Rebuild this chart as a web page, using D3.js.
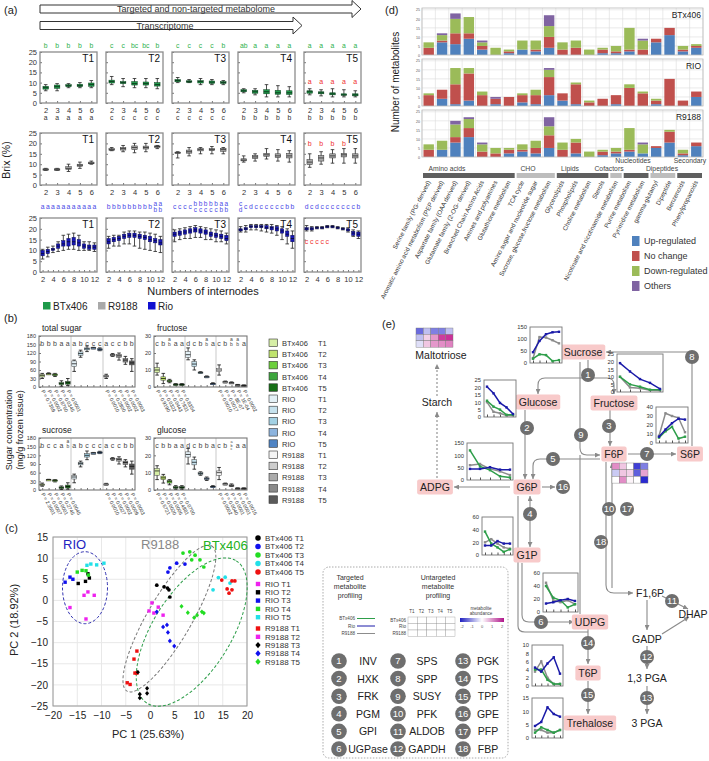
<!DOCTYPE html>
<html><head><meta charset="utf-8">
<script src="https://cdn.jsdelivr.net/npm/d3@7"></script>
<style>body{margin:0;background:#fff}svg{font-family:"Liberation Sans",Arial,Helvetica,sans-serif}</style>
</head><body>
<svg id="fig" width="709" height="761"></svg>
<script>
// ================= DATA =================
const timePoints = ["T1","T2","T3","T4","T5"];
const internodesShort = [2,3,4,5,6];
const internodesRio = [2,3,4,5,6,7,8,9,10,11,12];
const brixTicks = [0,5,10,15,20,25];
// Brix boxes: [whisker low, Q1, median, Q3, whisker high]
const brixBTx406 = [
 [[6,6.8,7.5,8.2,9],[6,7.2,8,8.8,9.5],[7.5,8,8.5,9,9.5],[7.5,8,8.5,9.2,10],[7.5,8.2,9,9.8,11]],
 [[9,9.8,10.5,11.2,13],[8,9.5,10,10.5,12],[7.5,8.8,9.5,10.5,12],[7.5,8.8,9.5,10.3,12],[7,8.3,9,10,12]],
 [[10,10.4,11,11.5,12.5],[10,10.2,10.5,10.9,11.5],[9,9.8,10.5,11,12],[9,9.6,10.2,10.8,11.5],[9,9.6,10,10.5,11]],
 [[5,5.5,6,6.5,7],[4,4.8,5.5,6.2,7],[3,4.5,5.5,6.5,9],[3,4.3,5,6.2,8.5],[3,4.2,5,6,8]],
 [[4,4.8,5.5,6,7],[3.5,4.5,5,5.5,6.5],[3,4,4.5,5,7],[3,3.8,4,4.5,6.5],[3,3.5,4,4.5,6]]
];
const brixR9188 = [
 [[7,7.2,7.5,7.8,8],[7,7.2,7.5,7.8,8],[6.5,7.5,8,8.8,10],[8,9,9.5,10,11],[10,10.2,10.5,11,11.5]],
 [[16.5,16.7,17,17.5,18],[16,16.8,17.5,18,19],[15.5,17,18,18.8,20],[16,17.3,18,18.7,20],[17.5,18,18.5,18.8,19]],
 [[13,15.3,15.5,15.8,16],[14,15.3,16,16.8,18],[15,16.4,17,17.5,18],[15,16.5,17,17.5,18.5],[15,16.2,17,17.6,18]],
 [[11,11.6,12,12.6,14],[11.5,12.7,13.5,14.2,15],[12.5,13.8,14.5,15.2,17.5],[11.5,13.2,14,15,17],[11,13,14,15.2,16.5]],
 [[8.5,9.8,11,12.2,15],[10,11.5,13,14.2,16],[10.5,13,14,15,17],[10.5,13.5,14.5,15.2,17.5],[10.5,13,14,15,17.5]]
];
const rioLo = [
 [6,7,9,9.5,10,10.5,10.5,10,10,10,9.5],[11,12,12,13,13,12,11,10.5,10,9.5,9],
 [14,15,15.5,15.5,16,16,15,15,14,14,13],[18.5,18.5,19.5,19.5,19,18.5,18,17,15,13,11],
 [19,19,20,20,20.5,20.5,20,19.5,18.5,16.5,15.5]];
const rioQ1 = [
 [7.5,8.5,10,11,12,12,12.5,12,11,10.5,10.5],[13,14,14.5,15.5,16,16,15.5,15,14,13.5,12.5],
 [16.5,17,17.5,18,18.5,18,17.5,16.5,16,15.5,14.5],[19,19.5,20.5,20.5,20.5,20,19.5,19,18,16.5,14],
 [19.5,19.5,20.2,20.2,20.7,20.7,20.2,19.7,19,17,16.5]];
const rioMed = [
 [8.5,9.5,10.5,12,13,14,14,13.5,12,11.5,11.5],[14,15,15.5,16.5,17,17,16.5,16,15,14.5,13.5],
 [17.5,18,18.5,19,19.5,19,18.5,17.5,17,16.5,15.5],[19.5,20,21,21,21,20.5,20.5,20,19,17.5,15.5],
 [20,20,20.5,20.5,21,21,20.5,20,19.5,18,17.5]];
const rioQ3 = [
 [10,10.5,11,13,14.5,15.5,16,15,13,12.5,12.5],[15.5,16,16.5,17.5,18,18,17.5,17,16.5,15.5,15],
 [18.5,19,19.5,20,20.5,20,19.5,18.5,18,17.5,17],[20,20.5,21.5,21.5,21.5,21.5,21,21,20,19,17],
 [20.5,20.5,20.8,20.8,21.3,21.3,20.8,20.3,20,18.8,18.5]];
const rioHi = [
 [10.5,11.5,12,14,17,17.5,18,17,14,14,13.5],[16.5,17,17,18.5,19,19,18.5,18.5,18,17.5,16.5],
 [19.5,20,20.5,21,21.5,21,20.5,20,19.5,19,18],[21,21.5,22,22,22,22,22,21.5,21,20,19],
 [21.5,21,21,21,21.5,21.5,21,20.5,20.5,19.5,19]];
const lettersBTx406 = [["b","b","b","b","b"],["c","c","bc","bc","b"],["c","c","c","c","b"],["ab","a","a","a","a"],["a","a","a","a","a"]];
const lettersR9188 = [["a","a","a","a","a"],["c","c","c","c","c"],["c","c","c","c","c"],["b","b","b","b","b"],["b","b","b","b","b"]];
const lettersRio = [
 ["a","a","a","a","a","a","a","a","a","a","a"],
 ["b","b","b","b","b","b","b","b","b","a/b","a/b"],
 ["c","c","c","c","b/c","b/c","b/c","b/c","b/c","a/b","a/b"],
 ["c/d","c","d","c","c","c","c","c","c","b","b"],
 ["d","c","d","c","c","c","c","c","c","c","b"]];
const redLettersT5 = ["a","b","c"];
const redLettersValue = [10.5,19.5,14];

// Panel (b)
const sugarGenotypes = ["BTx406","RIO","R9188"];
const totalSugar = [[30,35,40,45,48],[44,46,47,48,50],[37,40,43,46,48],[3,8,12,16,22],[5,10,15,20,30],
 [55,72,82,92,95],[105,112,118,124,130],[125,131,135,138,145],[135,137,138,139,140],[128,131,133,135,138],
 [30,35,38,41,45],[108,111,113,115,118],[95,105,110,115,120],[80,88,95,100,108],[55,78,85,92,100]];
const fructose = [[7,8.5,10,11.5,14],[2,4,5,6,8],[2.5,3,3.5,4,4.5],[1,1.2,1.5,1.8,2],[1,1.2,1.5,1.8,2],
 [16,17.5,19,21,23],[10,12,13.5,15,16],[8,8.3,8.5,8.8,9],[5.5,5.8,6,6.3,6.5],[1.5,1.8,2,2.2,2.5],
 [7,9,10,11,13],[2.5,2.8,3,3.2,3.5],[2,2.3,2.5,2.7,3],[1,1.1,1.2,1.3,1.5],[0.8,0.9,1,1.1,1.2]];
const sucrose = [[13,16,18,21,24],[34,35,36,36.5,37],[28,31,33,35,36],[2,5,8,11,14],[3,7,12,17,25],
 [25,38,45,50,55],[80,87,92,96,100],[105,114,120,126,135],[125,127,128,129,130],[126,128,130,132,134],
 [17,18.5,20,21.5,23],[103,106,108,110,112],[90,100,106,110,115],[80,88,95,100,105],[55,72,82,90,100]];
const glucose = [[6,8.5,11,12.5,14],[4,6,7,8,9],[3,4,5,5.5,6],[0.5,1,1.5,2,2.5],[0.5,1,1.5,2,2.5],
 [15,19,20.5,22,24],[12,14.5,16,17.5,19],[8.5,9,9.5,10,10.5],[5.5,6,6.5,7,7.5],[1.5,1.8,2,2.2,2.5],
 [6,8.5,10,11,13],[3,3.3,3.5,3.7,4],[2,2.3,2.5,3,3.5],[0.8,0.9,1,1.1,1.2],[0.8,0.9,1,1.1,1.2]];
const lettersTotal = ["b","b","b","a","a","a","b","c","c","c","a","c","c","b","b"];
const lettersFructose = ["c","b","a/b","a","a","d","c","b","a/b","a","c","b","a/b","a/b","a"];
const lettersSucrose = ["b","c","c","a","a/b","a","b","c","c","c","a","c","c","b","b"];
const lettersGlucose = ["c","b","b","a","a","d","c","b","b","a","c","b","a/b/c","a","a"];
const pTotal = [["P = 0.7369","P = 0.0002","P = 0.8760","P = 0.0345","P = 0.0001"],["P = 0.0010","P = 0.2800","P = 0.0002","P = 0.0002","P = 0.0003"]];
const pFructose = [["P = 0.9190","P = 0.0322","P = 0.0443","P = 0.7831","P = 0.8354"],["P = 0.0010","P = 0.0017","P = 8E-07","P = 1E-04","P = 0.0002"]];
const pSucrose = [["P = 2.3601","P = 0.0007","P = 0.0001","P = 0.2745","P = 0.0045"],["P = 0.0010","P = 0.0027","P = 0.0002","P = 0.0009","P = 0.0003"]];
const pGlucose = [["P = 0.6721","P = 0.0020","P = 0.0006","P = 0.4881","P = 0.0700"],["P = 0.0002","P = 0.0040","P = 0.0001","P = 0.0001","P = 0.0016"]];

// Panel (c) PCA scores: [group, PC1, PC2]
const pcaGroups = ["BTx406 T1","BTx406 T2","BTx406 T3","BTx406 T4","BTx406 T5",
 "RIO T1","RIO T2","RIO T3","RIO T4","RIO T5","R9188 T1","R9188 T2","R9188 T3","R9188 T4","R9188 T5"];
const pcaScores = [
 [0,1.4,3.6],[0,2.9,3.2],[0,3.9,2.5],[0,3.6,2.9],[0,4.1,0.8],
 [1,4.1,7.7],[1,5.5,8.8],[1,7.2,8.6],[1,3.7,6.7],
 [2,6.8,11.2],[2,8.2,11.5],[2,8.6,9.6],[2,10.3,9.6],[2,11.1,7.9],[2,9.3,10.7],
 [3,14.1,5.4],[3,15.5,5.5],[3,16.5,4.1],[3,13,2.5],
 [4,14.8,4.8],[4,16.9,4.6],[4,17.5,4.6],[4,15.9,2.7],[4,16.9,2.5],[4,16.3,1.7],
 [5,-13.6,1.2],[5,-12.8,2],[5,-11.5,1.2],[5,-16.5,-1.7],[5,-13.2,-4.4],
 [6,-14.8,4],[6,-13.3,4.5],[6,-12.8,6.3],[6,-12.5,5.3],
 [7,-17.5,4.3],[7,-16.5,5.5],[7,-15.9,5],
 [8,-15,6.7],[8,-14,7.1],[8,-13.2,7],[8,-12.7,6],
 [9,-13,8.3],[9,-12.2,8.6],[9,-11,8.4],[9,-9.5,8.8],
 [10,-4.7,-19.5],[10,-4.1,-19.9],[10,-2.7,-12],[10,-3.3,-13.9],[10,-3.1,-17.2],[10,-2.7,-17.2],
 [11,0.4,-0.6],[11,-0.2,-2.5],[11,0.8,-3],[11,1.7,-1.6],[11,2.7,-3.5],
 [12,-2.1,-22.2],[12,-2.1,-23.1],[12,-0.6,-20.8],[12,-0.6,-22],[12,-2.5,-17],
 [13,1.4,-2.7],[13,2.7,-6.3],[13,3.5,-5.8],[13,3.7,-7.6],[13,4.1,-9.6],[13,5,-10.8],
 [14,6.5,-1.4],[14,7.8,-2.9],[14,9.1,-4.1],[14,9.7,-3.5],[14,10.7,-2.7],[14,11.1,-3]];
const pcaTicksX = [-20,-15,-10,-5,0,5,10,15,20];
const pcaTicksY = [-25,-20,-15,-10,-5,0,5,10,15];

// Panel (d): [up, no change, down, others]
const metCategories = ["Serine family (PG- derived)","Aromatic amino acid metabolism (PEP derived)","Aspartate family (OAA derived)","Glutamate family (2-OG- derived)","Branched Chain Amino Acids","Amines and polyamines","Glutathione metabolism","TCA cycle","Amino sugar and nucleotide sugar","Sucrose, glucose,fructose metabolism","Glycerolipids","Phospholipids","Choline metabolism","Sterols","Nicotinate and nicotinamide metabolism","Purine metabolism","Pyrimidine metabolism","gamma-glutamyl","Dipeptide","Benzenoids","Phenylpropanoids"];
const metClasses = ["Up-regulated","No change","Down-regulated","Others"];
const metBTx406 = [[0,4,3,0],[7,1,3,1],[6,6,8,3],[9,3,9,0],[3,2,2,1],[0,0,4,0],[1,1,1,0],[3,0,5,0],[2,1,5,0],[4,6,6,6],[0,3,4,0],[0,4,4,0],[0,0,3,0],[1,2,1,0],[1,1,3,0],[2,1,12,0],[0,3,5,1],[7,2,0,0],[11,4,0,0],[2,1,2,0],[4,1,1,0]];
const metRIO = [[0,6,1,0],[4,5,0,0],[1,11,9,0],[3,15,3,0],[0,6,2,0],[1,3,0,1],[0,5,0,0],[2,4,1,0],[1,5,3,0],[6,10,4,1],[3,4,0,0],[1,11,1,0],[0,2,1,0],[0,4,0,0],[1,5,0,0],[0,10,2,0],[0,7,1,0],[1,2,1,0],[0,15,0,0],[0,3,0,0],[5,3,0,0]];
const metR9188 = [[0,4,3,0],[4,0,5,0],[8,3,7,2],[11,5,5,1],[0,3,4,1],[0,2,3,0],[2,2,1,0],[3,1,3,0],[2,3,4,0],[5,7,5,5],[0,4,4,0],[2,6,2,0],[0,0,3,0],[1,2,1,0],[2,1,2,0],[3,1,12,0],[2,0,5,1],[5,1,0,0],[8,6,1,0],[1,1,2,0],[6,2,0,0]];
const metGroups = [["Amino acids",0,6],["CHO",7,9],["Lipids",10,13],["Cofactors",14,14],["Nucleotides",15,16],["Dipeptides",17,18],["Secondary",19,20]];
const metTicks = [0,5,10,15,20,25];

// Panel (e) trends T1..T5
const sucroseTrend = {btx:[18,36,33,8,12], rio:[45,92,120,128,130], r9188:[20,108,106,95,82]};
const fructoseTrend = {btx:[10,5,3.5,1.5,1.5], rio:[19,13.5,8.5,6,2], r9188:[10,3,2.5,1.2,1]};
const glucoseTrend = {btx:[11,7,5,1.5,1.5], rio:[20.5,16,9.5,6.5,2], r9188:[10,3.5,2.5,1,1]};
const s6pTrend = {btx:[6,13,18,5,7], rio:[7,15,22,27,26], r9188:[8,33,30,28,12]};
const g6pTrend = {btx:[120,55,40,15,10], rio:[45,45,52,42,42], r9188:[60,65,45,35,20]};
const g1pTrend = {btx:[37,18,12,5,9], rio:[15,15,22,18,18], r9188:[20,25,18,12,10]};
const udpgTrend = {btx:[40,22,18,7,12], rio:[13,15,18,20,17], r9188:[45,18,15,18,12]};
const t6pTrend = {btx:[4,4,1.5,0.5,0.5], rio:[4.5,3.5,5.5,7,3], r9188:[3.5,6,2,0.5,0.5]};
const trehaloseTrend = {btx:[2,4,3,2,3], rio:[4.5,6,11.5,9,8], r9188:[3,3,2,2,3]};
const maltotrioseHeat = [[-1.4,-0.6,-1.2,-1.2,-0.6],[-0.6,0.4,0.9,1.7,1.8],[-0.3,0.5,0.9,1,1.1]];
const f6pHeat = [[1,0.5,0,-1.8,-1.2],[-0.5,0.5,0.4,-1.5,0.8],[0,1,0.1,0,-2]];
const enzymeNames = ["INV","HXK","FRK","PGM","GPI","UGPase","SPS","SPP","SUSY","PFK","ALDOB","GAPDH","PGK","TPS","TPP","GPE","PFP","FBP"];

// ================= DRAWING =================
const svg = d3.select("#fig");
function T(x,y,s,o={}){
  const t=svg.append("text").attr("x",x).attr("y",y).text(s)
    .attr("font-size",o.fs||8).attr("fill",o.c||"#222").attr("text-anchor",o.a||"start");
  if(o.w) t.attr("font-weight",o.w);
  if(o.r!=null) t.attr("transform",`rotate(${o.r} ${x} ${y})`);
  return t;
}
const defs = svg.append("defs");
defs.append("marker").attr("id","ah").attr("viewBox","0 0 6 6").attr("refX",6).attr("refY",3)
  .attr("markerWidth",5).attr("markerHeight",5).attr("markerUnits","userSpaceOnUse").attr("orient","auto-start-reverse")
  .append("path").attr("d","M0,0L6,3L0,6Z").attr("fill","#8a8a8a");

// ---- panel labels
T(4,14,"(a)",{fs:11}); T(4,322,"(b)",{fs:11}); T(5,532,"(c)",{fs:11}); T(385,14,"(d)",{fs:11}); T(382,328,"(e)",{fs:11});

// ---- (a) top arrows
function bigArrow(x0,x1,yc,bh,hh,label,lx){
  const hx = x1-9;
  const pts=[[x0,yc-bh/2],[hx,yc-bh/2],[hx,yc-hh/2],[x1,yc],[hx,yc+hh/2],[hx,yc+bh/2],[x0,yc+bh/2]];
  svg.append("polygon").attr("points",pts.map(p=>p.join(",")).join(" ")).attr("fill","#fff").attr("stroke","#333").attr("stroke-width",1);
  T(lx,yc+3.2,label,{fs:9,a:"middle",c:"#333"});
}
bigArrow(40,361,9,8,17,"Targeted and non-targeted metabolome",196);
bigArrow(40,302,25.5,8,17,"Transcriptome",165);

// ---- (a) brix panels
const brixRio = timePoints.map((t,ti)=>internodesRio.map((n,i)=>[rioLo[ti][i],rioQ1[ti][i],rioMed[ti][i],rioQ3[ti][i],rioHi[ti][i]]));
const aPanelX=[40,106,172,238,304], aPanelW=57;
const aRows=[
 {top:52,h:51,cats:internodesShort,data:brixBTx406,letters:lettersBTx406,lc:"#2db14c",fill:"#1e9a4a",st:"#0b3f1c",bw:5.5,ly:48},
 {top:133,h:52,cats:internodesShort,data:brixR9188,letters:lettersR9188,lc:"#333",fill:"#a9a9a9",st:"#333",bw:5.5,ly:120},
 {top:218,h:54,cats:internodesRio,data:brixRio,letters:lettersRio,lc:"#4a4ae6",fill:"#1818b8",st:"#0a0a55",bw:3.3,ly:209}
];
aRows.forEach((row,ri)=>{
  const y=d3.scaleLinear().domain([0,25]).range([row.top+row.h,row.top]);
  timePoints.forEach((tp,ti)=>{
    const x0=aPanelX[ti];
    const x=d3.scalePoint().domain(row.cats).range([x0,x0+aPanelW]).padding(0.5);
    const g=svg.append("g");
    const ya=g.append("g").attr("transform",`translate(${x0},0)`)
      .call(d3.axisLeft(y).tickValues(brixTicks).tickSizeInner(-2).tickSizeOuter(0).tickFormat(ti===0?d3.format("d"):()=>""));
    ya.select(".domain").remove();
    ya.selectAll("text").attr("font-size",7.5).attr("fill","#333").attr("font-family",null);
    ya.selectAll("line").attr("stroke","#777");
    const xa=g.append("g").attr("transform",`translate(0,${row.top+row.h})`)
      .call(d3.axisBottom(x).tickSizeInner(-2).tickSizeOuter(0).tickFormat(d=> (row.cats.length>5 && d%2) ? "" : d));
    xa.select(".domain").remove();
    xa.selectAll("text").attr("font-size",7.5).attr("fill","#333").attr("font-family",null).attr("dy","0.9em");
    xa.selectAll("line").attr("stroke","#777");
    g.append("rect").attr("x",x0).attr("y",row.top).attr("width",aPanelW).attr("height",row.h)
      .attr("fill","none").attr("stroke","#8c8c8c").attr("stroke-width",1.3);
    T(x0+aPanelW-3,row.top+10,tp,{fs:10,a:"end",c:"#111"});
    const bx=g.selectAll(".bx").data(row.data[ti]).join("g");
    bx.append("line").attr("x1",(d,i)=>x(row.cats[i])).attr("x2",(d,i)=>x(row.cats[i]))
      .attr("y1",d=>y(d[0])).attr("y2",d=>y(d[4])).attr("stroke","#222").attr("stroke-width",0.8);
    [0,4].forEach(k=>bx.append("line").attr("x1",(d,i)=>x(row.cats[i])-1.8).attr("x2",(d,i)=>x(row.cats[i])+1.8)
      .attr("y1",d=>y(d[k])).attr("y2",d=>y(d[k])).attr("stroke","#222").attr("stroke-width",0.8));
    bx.append("rect").attr("x",(d,i)=>x(row.cats[i])-row.bw/2).attr("width",row.bw)
      .attr("y",d=>y(d[3])).attr("height",d=>Math.max(1.5,y(d[1])-y(d[3])))
      .attr("fill",row.fill).attr("stroke",row.st).attr("stroke-width",0.5);
    bx.append("line").attr("x1",(d,i)=>x(row.cats[i])-row.bw/2).attr("x2",(d,i)=>x(row.cats[i])+row.bw/2)
      .attr("y1",d=>y(d[2])).attr("y2",d=>y(d[2])).attr("stroke","#000").attr("stroke-width",0.6);
    row.letters[ti].forEach((s,i)=>{
      const cx=x(row.cats[i]);
      const parts=s.split("/");
      if(parts.length>1){
        T(cx,row.ly-3.5,parts[0],{fs:6.5,a:"middle",c:row.lc});
        T(cx,row.ly+2.5,parts[1],{fs:6.5,a:"middle",c:row.lc});
      } else T(cx,row.ly,s,{fs:6.8,a:"middle",c:row.lc});
    });
    if(ti===4){
      row.cats.slice(0,5).forEach((c,i)=>{ if(ri===1 && i===4) return; T(x(c),y(redLettersValue[ri])+2,redLettersT5[ri],{fs:7,a:"middle",c:"#f03030"}); });
    }
  });
});
T(10,160,"Brix (%)",{fs:10.5,a:"middle",r:-90,c:"#222"});
T(203,295,"Numbers of internodes",{fs:11,a:"middle",c:"#222"});
[["BTx406","#1e9a4a",43],["R9188","#a9a9a9",98],["Rio","#1010d0",148]].forEach(([s,c,x])=>{
  svg.append("rect").attr("x",x).attr("y",302).attr("width",7.5).attr("height",7.5).attr("fill",c);
  T(x+10,310,s,{fs:10,c:"#222"});
});

// ---- (b) sugar panels
const sugarColors = ["#d6eea6","#bfe36d","#6ccf3c","#3da63d","#176f17",
  "#e3f0f6","#c6e2ee","#a3d1e4","#8db4de","#4f84c4",
  "#f4f4f4","#cdcdcd","#ababab","#8a8a8a","#5a5a5a"];
const bCharts=[
 {title:"total sugar",data:totalSugar,max:180,step:30,letters:lettersTotal,p:pTotal,x:39,y:336,w:96,h:51},
 {title:"fructose",data:fructose,max:30,step:10,letters:lettersFructose,p:pFructose,x:154,y:336,w:93,h:51},
 {title:"sucrose",data:sucrose,max:180,step:30,letters:lettersSucrose,p:pSucrose,x:39,y:438,w:96,h:52},
 {title:"glucose",data:glucose,max:30,step:10,letters:lettersGlucose,p:pGlucose,x:154,y:438,w:93,h:52}
];
const groupIdx = d3.range(15);
bCharts.forEach(ch=>{
  const g=svg.append("g");
  const y=d3.scaleLinear().domain([0,ch.max]).range([ch.y+ch.h,ch.y]);
  const x=d3.scalePoint().domain(groupIdx).range([ch.x,ch.x+ch.w]).padding(0.5);
  T(ch.x+3,ch.y-5,ch.title,{fs:8.5,c:"#222"});
  [1,2].forEach(k=>g.append("line").attr("x1",ch.x+ch.w*k/3).attr("x2",ch.x+ch.w*k/3)
     .attr("y1",ch.y).attr("y2",ch.y+ch.h).attr("stroke","#bbb").attr("stroke-width",0.8));
  const ya=g.append("g").attr("transform",`translate(${ch.x},0)`)
    .call(d3.axisLeft(y).tickValues(d3.range(0,ch.max+1,ch.step)).tickSizeInner(-2).tickSizeOuter(0));
  ya.select(".domain").remove();
  ya.selectAll("text").attr("font-size",5.5).attr("fill","#333").attr("font-family",null);
  ya.selectAll("line").attr("stroke","#777");
  const xa=g.append("g").attr("transform",`translate(0,${ch.y+ch.h})`)
    .call(d3.axisBottom(x).tickSizeInner(-2).tickSizeOuter(0).tickFormat(""));
  xa.select(".domain").remove(); xa.selectAll("line").attr("stroke","#777");
  g.append("rect").attr("x",ch.x).attr("y",ch.y).attr("width",ch.w).attr("height",ch.h)
    .attr("fill","none").attr("stroke","#777").attr("stroke-width",1.1);
  const bx=g.selectAll(".sb").data(ch.data).join("g");
  bx.append("line").attr("x1",(d,i)=>x(i)).attr("x2",(d,i)=>x(i)).attr("y1",d=>y(d[0])).attr("y2",d=>y(d[4]))
    .attr("stroke","#111").attr("stroke-width",0.8);
  [0,4].forEach(k=>bx.append("line").attr("x1",(d,i)=>x(i)-1.8).attr("x2",(d,i)=>x(i)+1.8)
    .attr("y1",d=>y(d[k])).attr("y2",d=>y(d[k])).attr("stroke","#111").attr("stroke-width",0.8));
  bx.append("rect").attr("x",(d,i)=>x(i)-2.4).attr("width",4.8).attr("y",d=>y(d[3]))
    .attr("height",d=>Math.max(1.5,y(d[1])-y(d[3]))).attr("fill",(d,i)=>sugarColors[i])
    .attr("stroke","#444").attr("stroke-width",0.5);
  bx.append("line").attr("x1",(d,i)=>x(i)-2.4).attr("x2",(d,i)=>x(i)+2.4).attr("y1",d=>y(d[2])).attr("y2",d=>y(d[2]))
    .attr("stroke","#000").attr("stroke-width",0.7);
  ch.letters.forEach((s,i)=>{
    const parts=s.split("/");
    if(parts.length===1) T(x(i),ch.y+10,s,{fs:7,a:"middle",c:"#444"});
    else parts.forEach((p,j)=>T(x(i),ch.y+5+j*(parts.length===2?5:3.5),p,{fs:parts.length===2?5:3.8,a:"middle",c:"#444"}));
  });
  [0,10].forEach((start,si)=>{
    ch.p[si].forEach((s,j)=>T(x(start+j)-1,ch.y+ch.h+4,s,{fs:5,c:"#333",r:62}));
  });
});
T(12,430,"Sugar concentration",{fs:9,a:"middle",r:-90});
T(23,430,"(mg/g frozen tissue)",{fs:9,a:"middle",r:-90});
sugarGenotypes.forEach((gn,gi)=>timePoints.forEach((tp,ti)=>{
  const k=gi*5+ti, yy=343+k*11.2;
  svg.append("rect").attr("x",269).attr("y",yy-4).attr("width",8.5).attr("height",7.5)
    .attr("fill",sugarColors[k]).attr("stroke","#333").attr("stroke-width",0.6);
  T(282,yy+3,gn,{fs:7.5,c:"#333"}); T(318,yy+3,tp,{fs:7.5,c:"#333"});
}));

// ---- (c) PCA
const pcX=d3.scaleLinear().domain([-20,20]).range([53,247]);
const pcY=d3.scaleLinear().domain([-25,15]).range([706,537]);
const gc=svg.append("g");
pcaTicksX.forEach(v=>gc.append("line").attr("x1",pcX(v)).attr("x2",pcX(v)).attr("y1",pcY(15)).attr("y2",pcY(-25)).attr("stroke","#e8e8e8"));
pcaTicksY.forEach(v=>gc.append("line").attr("y1",pcY(v)).attr("y2",pcY(v)).attr("x1",pcX(-20)).attr("x2",pcX(20)).attr("stroke","#e8e8e8"));
const axc1=gc.append("g").attr("transform",`translate(0,${pcY(-25)})`).call(d3.axisBottom(pcX).tickValues(pcaTicksX).tickSize(0).tickPadding(6));
axc1.select(".domain").remove(); axc1.selectAll("text").attr("font-size",10).attr("fill","#222").attr("font-family",null);
const axc2=gc.append("g").attr("transform",`translate(${pcX(-20)},0)`).call(d3.axisLeft(pcY).tickValues(pcaTicksY).tickSize(0).tickPadding(5));
axc2.select(".domain").remove(); axc2.selectAll("text").attr("font-size",10).attr("fill","#222").attr("font-family",null);
gc.append("rect").attr("x",pcX(-20)).attr("y",pcY(15)).attr("width",pcX(20)-pcX(-20)).attr("height",pcY(-25)-pcY(15))
  .attr("fill","none").attr("stroke","#999");
function ell(cx,cy,rx,ry,ang,col){
  gc.append("ellipse").attr("cx",cx).attr("cy",cy).attr("rx",rx).attr("ry",ry)
    .attr("transform",`rotate(${ang} ${cx} ${cy})`).attr("fill","none").attr("stroke",col)
    .attr("stroke-width",1).attr("stroke-dasharray","3,2");
}
ell(pcX(-13.4),pcY(3),22.5,36,0,"#3030b0");
ell(pcX(4),pcY(-4.3),84,22,-59.7,"#777");
ell(pcX(8.6),pcY(-7.5),84,39,-58,"#2e9e4a");
const pcaColors=["#000","#1010ee","#22dd22","#22e0e8","#ee1111","#ee22ee","#000","#1010ee","#22dd22","#22e0e8","#ee1111","#ee22ee","#000","#1010ee","#22dd22"];
const pcaShape=g=> g<5?"circle": (g<12?"square":"diamond");
function marker(sel,shape,x,y,c,s){
  if(shape==="circle") sel.append("circle").attr("cx",x).attr("cy",y).attr("r",s*0.55).attr("fill",c);
  else if(shape==="square") sel.append("rect").attr("x",x-s/2).attr("y",y-s/2).attr("width",s).attr("height",s).attr("fill",c);
  else sel.append("path").attr("d",`M${x},${y-s*0.7}L${x+s*0.6},${y}L${x},${y+s*0.7}L${x-s*0.6},${y}Z`).attr("fill",c);
}
pcaScores.forEach(([g,a,b])=>marker(gc,pcaShape(g),pcX(a),pcY(b),pcaColors[g],3.4));
T(63,549,"RIO",{fs:13,c:"#2222c0"});
T(141,549,"R9188",{fs:13,c:"#888"});
T(203,550,"BTx406",{fs:13,c:"#22b022"});
T(18,620,"PC 2 (18.92%)",{fs:11,a:"middle",r:-90});
T(148,738,"PC 1 (25.63%)",{fs:11,a:"middle"});
pcaGroups.forEach((s,g)=>{
  const yy = g<5 ? 538+g*8.5 : (g<10 ? 584+(g-5)*8.3 : 628.5+(g-10)*8.3);
  marker(gc,pcaShape(g),258,yy,pcaColors[g],g<5?5:4.4);
  T(265,yy+2.8,s,{fs:8,c:"#333"});
});

// ---- (d) metabolite counts
const dPanels=[{name:"BTx406",data:metBTx406,top:8},{name:"RIO",data:metRIO,top:59},{name:"R9188",data:metR9188,top:110}];
const dX0=422,dX1=703,dH=47;
const metColors=["#4f81bd","#c0504d","#9bbb59","#8064a2"];
const xb=d3.scaleBand().domain(metCategories).range([dX0,dX1]).paddingInner(0.22).paddingOuter(0.11);
const stepD=(dX1-dX0)/metCategories.length;
dPanels.forEach(p=>{
  const g=svg.append("g");
  const y=d3.scaleLinear().domain([0,26]).range([p.top+dH,p.top]);
  metTicks.slice(1).forEach(v=>g.append("line").attr("x1",dX0).attr("x2",dX1).attr("y1",y(v)).attr("y2",y(v)).attr("stroke","#dcdcdc").attr("stroke-width",0.6));
  d3.range(metCategories.length+1).forEach(i=>g.append("line").attr("x1",dX0+i*stepD).attr("x2",dX0+i*stepD).attr("y1",p.top).attr("y2",p.top+dH).attr("stroke","#dcdcdc").attr("stroke-width",0.6));
  const stack=d3.stack().keys([0,1,2,3]).value((d,k)=>d[k])(p.data);
  stack.forEach((layer,k)=>{
    g.selectAll(null).data(layer).join("rect").attr("x",(d,i)=>xb(metCategories[i])).attr("width",xb.bandwidth())
      .attr("y",d=>y(d[1])).attr("height",d=>y(d[0])-y(d[1])).attr("fill",metColors[k]);
  });
  const ya=g.append("g").attr("transform",`translate(${dX0},0)`).call(d3.axisLeft(y).tickValues(metTicks).tickSize(0).tickPadding(2));
  ya.select(".domain").remove(); ya.selectAll("text").attr("font-size",3.6).attr("fill","#555").attr("font-family",null);
  g.append("rect").attr("x",dX0).attr("y",p.top).attr("width",dX1-dX0).attr("height",dH).attr("fill","none").attr("stroke","#bbb").attr("stroke-width",0.8);
  T(dX1-2,p.top+10,p.name,{fs:8.5,a:"end",c:"#222"});
});
T(399,82,"Number of metabolites",{fs:10,a:"middle",r:-90});
const groupLabelX = [447,528,570,609,633,662,690];
metGroups.forEach(([name,a,b],gi)=>{
  const xa=dX0+a*stepD+1, xe=dX0+(b+1)*stepD-1;
  svg.append("rect").attr("x",xa).attr("y",173).attr("width",xe-xa).attr("height",5).attr("fill",gi%2?"#bdbdbd":"#5f5f5f");
  const raised = name==="Nucleotides"||name==="Secondary";
  T(groupLabelX[gi],raised?163:171,name,{fs:6.8,a:"middle",c:"#444"});
});
metCategories.forEach(c=>{
  const cx=xb(c)+xb.bandwidth()/2+2;
  T(cx,182,c,{fs:6.3,a:"end",r:-63,c:"#333"});
});
metClasses.forEach((s,i)=>{
  svg.append("rect").attr("x",632).attr("y",236+i*15).attr("width",7.5).attr("height",10).attr("fill",metColors[i]);
  T(644,244+i*15,s,{fs:9,c:"#333"});
});

// ---- (e) pathway
const ge=svg.append("g");
function conn(d,dash,arrowStart){
  const p=ge.append("path").attr("d",d).attr("fill","none").attr("stroke","#8a8a8a").attr("stroke-width",1.1).attr("marker-end","url(#ah)");
  if(dash) p.attr("stroke-dasharray","2,2");
  if(arrowStart) p.attr("marker-start","url(#ah)");
}
function plain(d){ ge.append("path").attr("d",d).attr("fill","none").attr("stroke","#8a8a8a").attr("stroke-width",1.1); }
conn("M437,396V364",true); conn("M437,478V412",true);
plain("M588,360V378");
conn("M588,378H545Q538,378 538,385V394");
conn("M588,378H607Q614,378 614,385V394");
conn("M692,446V352H606");
conn("M525,410V479");
conn("M600,459H540Q533,459 533,466V479");
conn("M610,410V446");
conn("M580,362V448Q580,455 587,455H600");
plain("M580,455V614");
conn("M628,454H676");
conn("M510,487H454");
conn("M542,487H555");
conn("M530,547V496",false,true);
conn("M522,563V615Q522,622 529,622H574");
plain("M518,496V626Q518,632 525,632H588");
conn("M588,629V664");
conn("M588,681V714");
conn("M606,462V585Q606,593 614,593H633");
conn("M612,588V463");
conn("M662,596L688,609");
conn("M647,600V630");
conn("M662,634L689,617");
conn("M647,646V669");
conn("M647,686V714");

const pinkNodes=[["Sucrose",583,352],["Glucose",538,402],["Fructose",614,403],["F6P",614,454],["S6P",690,454],
 ["G6P",527,487],["ADPG",435,487],["G1P",527,555],["UDPG",590,622],["T6P",588,673],["Trehalose",590,723]];
pinkNodes.forEach(([s,x,y])=>{
  const gg=ge.append("g");
  const r=gg.append("rect").attr("fill","#f8caca").attr("rx",2);
  const t=gg.append("text").attr("x",x).attr("y",y+3.8).attr("text-anchor","middle").attr("font-size",10.5).attr("fill","#222").text(s);
  const w=t.node().getComputedTextLength();
  r.attr("x",x-w/2-3).attr("y",y-7.5).attr("width",w+6).attr("height",15);
});
[["Maltotriose",441,359],["Starch",437,406],["F1,6P",650,597],["DHAP",693,618],["GADP",647,643],["1,3 PGA",647,682],["3 PGA",647,727]]
  .forEach(([s,x,y])=>T(x,y,s,{fs:10.5,a:"middle",c:"#222"}));
function enz(n,x,y,r=7){
  ge.append("circle").attr("cx",x).attr("cy",y).attr("r",r).attr("fill","#6e6e6e");
  ge.append("text").attr("x",x).attr("y",y+3.3).attr("text-anchor","middle").attr("font-size",9.5).attr("fill","#fff").text(n);
}
[[1,588,375],[8,692,357],[2,527,428],[3,609,426],[9,581,435],[5,553,459],[7,647,454],[16,563,487],[4,530,514],
 [10,609,509],[17,627,509],[18,601,542],[11,672,601],[6,541,622],[14,588,643],[15,588,695],[12,647,657],[13,647,698]]
 .forEach(([n,x,y])=>enz(n,x,y));

const heat=d3.scaleLinear().domain([-2,0,2]).range(["#2a2ad0","#ffffff","#c41a8c"]);
function heatmap(data,x0,y0,cw,chh){
  data.forEach((row,r)=>row.forEach((v,c)=>ge.append("rect").attr("x",x0+c*cw).attr("y",y0+r*chh).attr("width",cw).attr("height",chh)
    .attr("fill",heat(v)).attr("stroke","#777").attr("stroke-width",0.4)));
}
heatmap(maltotrioseHeat,416,328,7.4,6.4);
heatmap(f6pHeat,612,463,7.2,6.7);

function mini(tr,bx,by,bw,bh,max,step){
  const g=ge.append("g");
  const x=d3.scalePoint().domain(timePoints).range([bx+3,bx+bw-3]);
  const y=d3.scaleLinear().domain([0,max]).range([by+bh,by]);
  g.append("rect").attr("x",bx).attr("y",by).attr("width",bw).attr("height",bh).attr("fill","#fff").attr("stroke","#777").attr("stroke-width",0.9);
  const ya=g.append("g").attr("transform",`translate(${bx},0)`).call(d3.axisLeft(y).tickValues(d3.range(0,max+0.01,step)).tickSize(0).tickPadding(3));
  ya.select(".domain").remove(); ya.selectAll("text").attr("font-size",5.8).attr("fill","#333").attr("font-family",null);
  const xa=g.append("g").attr("transform",`translate(0,${by+bh})`).call(d3.axisBottom(x).tickSizeInner(-2.5).tickSizeOuter(0).tickFormat(""));
  xa.select(".domain").remove(); xa.selectAll("line").attr("stroke","#555");
  const line=d3.line().x((d,i)=>x(timePoints[i])).y(d=>y(d));
  [["r9188","#8c8c8c"],["btx","#2e9e4a"],["rio","#1a1aa8"]].forEach(([k,c])=>{
    g.append("path").attr("d",line(tr[k])).attr("fill","none").attr("stroke",c).attr("stroke-width",1.5);
    tr[k].forEach((v,i)=>g.append("rect").attr("x",x(timePoints[i])-1.2).attr("y",y(v)-1.2).attr("width",2.4).attr("height",2.4).attr("fill",c));
  });
}
mini(sucroseTrend,530,327,32,36,150,50);
mini(fructoseTrend,617,354,46,38,25,5);
mini(glucoseTrend,484,380,32,37,25,5);
mini(s6pTrend,656,407,32,36,40,10);
mini(g6pTrend,467,443,46,37,150,50);
mini(g1pTrend,482,517,31,38,60,20);
mini(udpgTrend,543,573,35,39,60,20);
mini(t6pTrend,532,645,31,41,10,2);
mini(trehaloseTrend,532,698,31,40,15,5);

// legend box (e)
ge.append("rect").attr("x",323).attr("y",567).attr("width",185).attr("height",191).attr("rx",6)
  .attr("fill","none").attr("stroke","#aaa").attr("stroke-dasharray","1.5,1.5");
["Targeted","metabolite","profiling"].forEach((s,i)=>T(350,580+i*9,s,{fs:7,a:"middle",c:"#333"}));
["Untargeted","metabolite","profiling"].forEach((s,i)=>T(438,580+i*9,s,{fs:7,a:"middle",c:"#333"}));
[["BTx406","#2e9e4a"],["Rio","#1a1aa8"],["R9188","#8c8c8c"]].forEach(([s,c],i)=>{
  T(355,620+i*7.5,s,{fs:4.6,a:"end",c:"#444"});
  ge.append("line").attr("x1",357).attr("x2",375).attr("y1",618.5+i*7.5).attr("y2",618.5+i*7.5).attr("stroke",c).attr("stroke-width",1);
  T(406,621.5+i*6.5,s,{fs:4.6,a:"end",c:"#444"});
});
timePoints.forEach((t,i)=>T(412+i*9.4,613,t,{fs:4.6,a:"middle",c:"#444"}));
d3.range(3).forEach(r=>d3.range(5).forEach(c=>ge.append("rect").attr("x",408+c*9.4).attr("y",617+r*6.5).attr("width",9.4).attr("height",6.5).attr("fill","#fff").attr("stroke","#999").attr("stroke-width",0.4)));
const grad=defs.append("linearGradient").attr("id","gb");
[["0%","#2020c0"],["50%","#ffffff"],["100%","#b0158a"]].forEach(([o,c])=>grad.append("stop").attr("offset",o).attr("stop-color",c));
T(481,610,"metabolite",{fs:4.6,a:"middle",c:"#444"}); T(481,615,"abundance",{fs:4.6,a:"middle",c:"#444"});
ge.append("rect").attr("x",460).attr("y",618).attr("width",44).attr("height",4).attr("fill","url(#gb)");
["-2","-1","0","1","2"].forEach((s,i)=>T(462+i*10,628,s,{fs:4,a:"middle",c:"#555"}));
enzymeNames.forEach((s,i)=>{
  const col=Math.floor(i/6), row=i%6;
  const cx=[339,398,463][col], tx=[368,427,488][col], yy=661+row*17.6;
  enz(i+1,cx,yy,7.8);
  T(tx,yy+4,s,{fs:10.5,a:"middle",c:"#222"});
});
</script>
</body></html>
